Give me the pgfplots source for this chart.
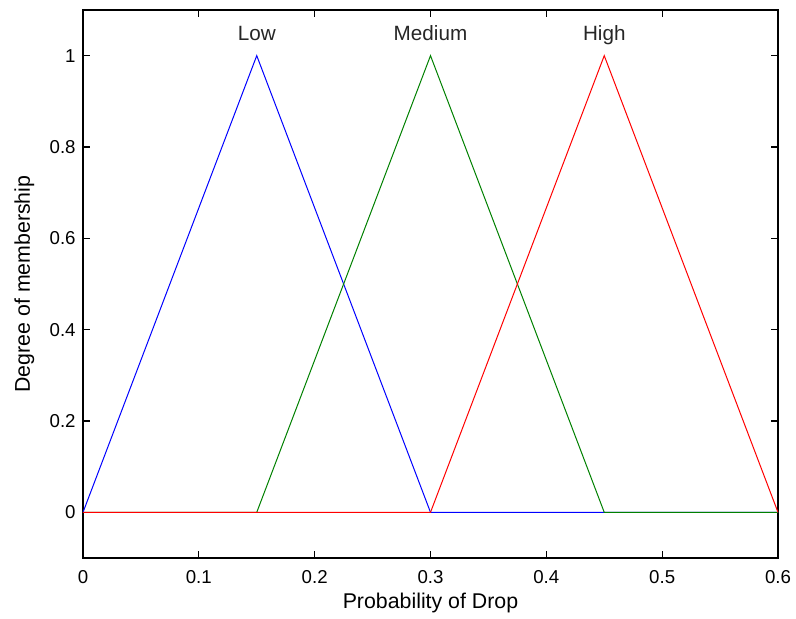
\documentclass[border=0pt]{standalone}
\usepackage{pgfplots}
\pgfplotsset{compat=1.18}
\usepackage{fontspec}
\setmainfont{Liberation Sans}
\definecolor{mblue}{RGB}{0,0,255}
\definecolor{mgreen}{RGB}{0,128,0}
\definecolor{mred}{RGB}{255,0,0}
\begin{document}
\begin{tikzpicture}
\begin{axis}[
  scale only axis,
  width=521.25pt, height=411pt,
  xmin=0, xmax=0.6, ymin=-0.1, ymax=1.1,
  xtick={0,0.1,0.2,0.3,0.4,0.5,0.6},
  ytick={0,0.2,0.4,0.6,0.8,1},
  xticklabels={0,0.1,0.2,0.3,0.4,0.5,0.6},
  yticklabels={0,0.2,0.4,0.6,0.8,1},
  tick align=inside,
  major tick length=5pt,
  axis line style={black, line width=0.8pt},
  every tick/.style={black, line width=0.8pt},
  tick label style={font=\fontsize{14}{16}\selectfont},
  label style={font=\fontsize{16}{18}\selectfont},
  xticklabel style={yshift=-5.5pt},
  yticklabel style={xshift=-2pt},
  xlabel={Probability of Drop},
  ylabel={Degree of membership},
  xlabel style={at={(axis description cs:0.5,0)}, anchor=base, yshift=-38.25pt},
  ylabel style={at={(axis description cs:0,0.5)}, anchor=base, yshift=39.75pt},
  clip=false,
]
\addplot[mblue, line width=0.75pt] coordinates {(0,0) (0.15,1) (0.3,0) (0.6,0)};
\addplot[mgreen, line width=0.75pt] coordinates {(0,0) (0.15,0) (0.3,1) (0.45,0) (0.6,0)};
\addplot[mred, line width=0.75pt] coordinates {(0,0) (0.3,0) (0.45,1) (0.6,0)};
\node[font=\fontsize{15.5}{17}\selectfont, text=black!85, anchor=base] at (axis cs:0.15,1.034) {Low};
\node[font=\fontsize{15.5}{17}\selectfont, text=black!85, anchor=base] at (axis cs:0.3,1.034) {Medium};
\node[font=\fontsize{15.5}{17}\selectfont, text=black!85, anchor=base] at (axis cs:0.45,1.034) {High};
\path (rel axis cs:0,0) ++(-62.25pt,-45.75pt) coordinate (bbA);
\path (rel axis cs:1,1) ++(13.5pt,7.5pt) coordinate (bbB);
\end{axis}
\useasboundingbox (bbA) rectangle (bbB);
\end{tikzpicture}
\end{document}
